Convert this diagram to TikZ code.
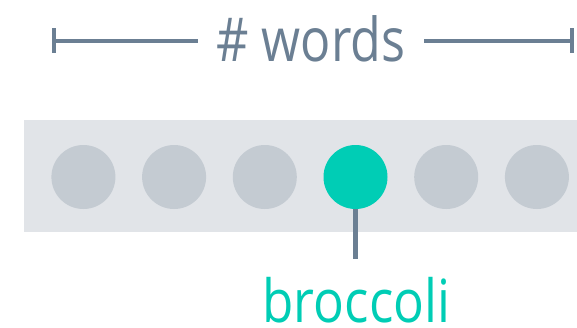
\documentclass[tikz,border=0pt]{standalone}
\usepackage{fontspec}
\setmainfont{Open Sans}
\newfontfamily\titlefont[FakeStretch=0.83]{Open Sans}
\newfontfamily\wordfont[FakeStretch=0.86]{Open Sans}
\begin{document}
\begin{tikzpicture}[x=1pt,y=-1pt,
  dot/.style={circle,fill=dotgray,minimum size=64pt,inner sep=0pt},
  hot/.style={circle,fill=teal1,minimum size=64pt,inner sep=0pt},
  rule/.style={draw=slate,line width=4.5pt}]
\definecolor{slate}{HTML}{6B7F93}
\definecolor{bandgray}{HTML}{E1E4E8}
\definecolor{dotgray}{HTML}{C4CBD2}
\definecolor{teal1}{HTML}{00CDB5}
\useasboundingbox (0,0) rectangle (577,327);
\fill[bandgray] (24,120) rectangle (577,232);
\foreach \i/\x in {1/83.4,2/174.1,3/264.8,5/446.2,6/536.9}
  \node[dot] (d\i) at (\x,177) {};
\coordinate (stemend) at (355.5,259);
\draw[rule,line width=5pt] (355.5,177) -- (stemend);
\node[hot] (d4) at (355.5,177) {};
\node[text=teal1,font=\wordfont\fontsize{59.5}{60}\selectfont,anchor=base,inner sep=0pt,text depth=0pt] (word) at (356.4,322) {broccoli};
\node[text=slate,font=\titlefont\fontsize{60.5}{60}\selectfont,anchor=base,inner sep=0pt] (title) at (311,61) {\# words};
\coordinate (l1) at (54,41);
\coordinate (l2) at (198,41);
\coordinate (r1) at (424,41);
\coordinate (r2) at (572,41);
\draw[rule] (l1) -- (l2);
\draw[rule] (r1) -- (r2);
\draw[rule] (54,28) -- (54,53);
\draw[rule] (572,28) -- (572,53);
\end{tikzpicture}
\end{document}
